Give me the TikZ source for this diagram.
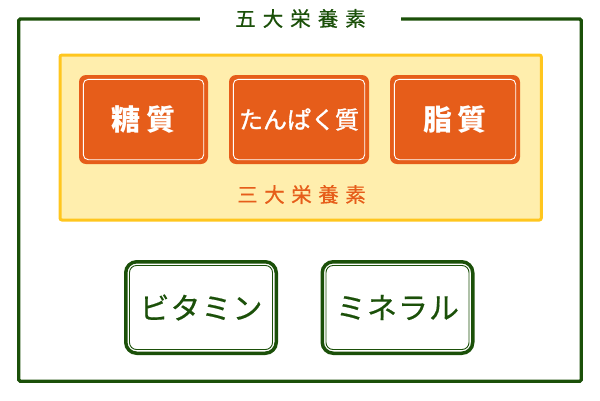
\documentclass[tikz,border=0pt]{standalone}
\usepackage{fontspec}
\newfontfamily\jp{Noto Sans CJK JP}
\newfontfamily\jpm[FakeBold=0.5]{Noto Sans CJK JP}
\newfontfamily\jpb[FakeBold=1.3]{Noto Sans CJK JP}
\definecolor{dgreen}{HTML}{1B5009}
\definecolor{orng}{HTML}{E65D1A}
\definecolor{ylfill}{HTML}{FFEEAD}
\definecolor{ylline}{HTML}{FFC61E}
\tikzset{
  obox/.style={fill=orng, rounded corners=7pt, minimum width=129pt, minimum height=89pt, inner sep=0pt, text=white, font=\jp\bfseries\fontsize{29}{29}\selectfont},
  oinner/.style={draw=white, line width=0.9pt, rounded corners=5pt},
  gbox/.style={draw=dgreen, line width=3.5pt, rounded corners=11pt, minimum width=150.5pt, minimum height=91.5pt, inner sep=0pt, text=dgreen, font=\jpm\fontsize{30}{30}\selectfont},
  ginner/.style={draw=dgreen, line width=0.9pt, rounded corners=7pt},
}
\begin{document}
\begin{tikzpicture}[x=1pt,y=-1pt]
\useasboundingbox (0,0) rectangle (600,400);
% outer frame
\draw[dgreen, line width=3.3pt, rounded corners=1.5pt] (18.8,19) rectangle (581.3,381.3);
\node[fill=white, minimum width=201pt, minimum height=12pt, inner sep=0pt, text=dgreen, font=\jpm\fontsize{20.5}{20.5}\selectfont] (title) at (300.5,18.5) {五\hspace{7pt}大\hspace{7pt}栄\hspace{7pt}養\hspace{7pt}素};
% yellow box
\draw[ylline, fill=ylfill, line width=3pt, rounded corners=2pt] (60,55) rectangle (541.3,220);
% orange boxes
\node[obox] (toushitsu) at (143.5,119.5) {糖\hspace{6pt}質};
\node[obox, minimum width=140pt, font=\jpb\fontsize{24}{24}\selectfont] (tanpaku) at (299,119.5) {たんぱく質};
\node[obox, minimum width=130pt] (shishitsu) at (455,119.5) {脂\hspace{6pt}質};
\foreach \n in {toushitsu,tanpaku,shishitsu}{
  \draw[oinner] ([shift={(4.5,4.5)}]\n.north west) rectangle ([shift={(-4.5,-4.5)}]\n.south east);
}
\node[text=orng, font=\jpm\fontsize{20.5}{20.5}\selectfont, inner sep=0pt] (sandai) at (301.5,194.5) {三\hspace{6.5pt}大\hspace{6.5pt}栄\hspace{6.5pt}養\hspace{6.5pt}素};
% green boxes
\node[gbox] (vitamin) at (201,307.5) {ビ\hspace{1pt}タ\hspace{1pt}ミ\hspace{1pt}ン};
\node[gbox] (mineral) at (397.5,307.5) {ミ\hspace{1pt}ネ\hspace{1pt}ラ\hspace{1pt}ル};
\foreach \n in {vitamin,mineral}{
  \draw[ginner] ([shift={(5.5,5.5)}]\n.north west) rectangle ([shift={(-5.5,-5.5)}]\n.south east);
}
\end{tikzpicture}
\end{document}
